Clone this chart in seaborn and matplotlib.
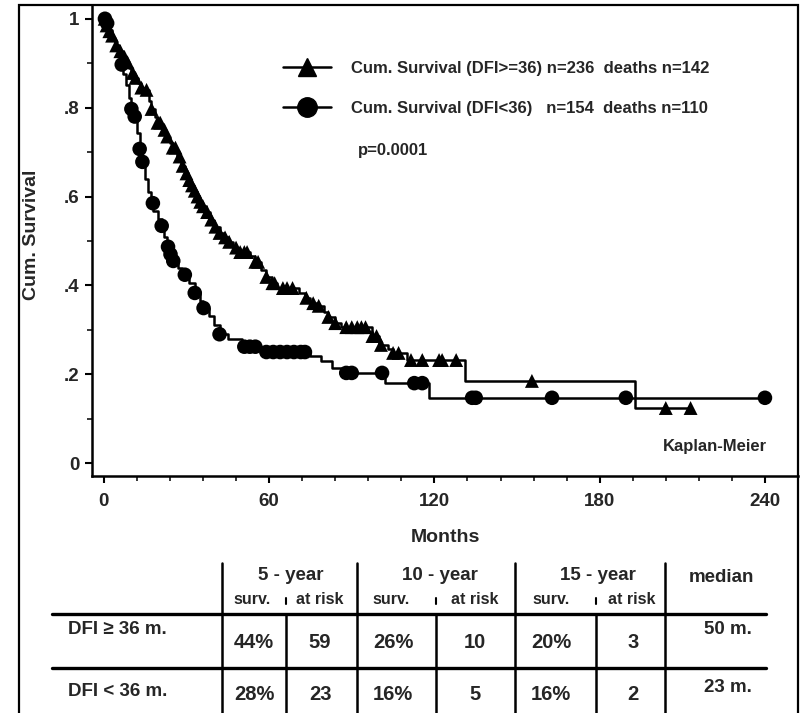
import numpy as np
import pandas as pd
import matplotlib
matplotlib.use("Agg")
import matplotlib.pyplot as plt
import seaborn as sns
from matplotlib.lines import Line2D
from matplotlib.patches import Rectangle
from matplotlib.ticker import MultipleLocator
from matplotlib.font_manager import FontProperties

# ---------------- data ----------------
# DFI >= 36 (triangles): step times (months) and cumulative survival
t_hi = [0, 0.5, 1.5, 2.5, 3.5, 4.5, 5.5, 7, 8, 9, 10, 11, 12.5, 13.6, 15, 16.5, 17.3, 18.5, 19.5, 21,
        22.5, 24, 25, 26.5, 28, 29.5, 30.5, 31.5, 32.5, 33.5, 34.5, 35.5, 37, 38.5, 40, 42, 43.5, 45, 47, 49,
        53, 55, 57, 59, 61, 63, 71, 73, 75, 77, 80, 81.5, 84, 86, 97.5, 100, 103, 105, 110, 131, 193, 213]
s_hi = [1.0, .985, .972, .962, .952, .94, .927, .914, .902, .89, .878, .867, .855, .845, .84, .815, .797, .78, .766, .75,
        .735, .72, .71, .69, .669, .652, .637, .625, .613, .6, .588, .578, .565, .548, .532, .518, .508, .498, .485, .475,
        .465, .453, .435, .419, .405, .394, .383, .372, .36, .354, .34, .329, .315, .306, .286, .266, .257, .248, .232, .185,
        .124, .124]
cens_hi = [0.3, 1, 2, 3, 4.5, 6, 7.5, 8.6, 10.5, 11.5, 13.6, 15.5, 17.3, 19.5, 20.5, 22, 23, 25, 26, 27.5, 28.6,
           30, 31, 32, 33, 34, 35, 36, 37.5, 39, 40.5, 42, 44, 45.5, 48, 49.5, 51, 52, 55, 56, 59, 61.2, 62, 65,
           66.5, 68.5, 73.5, 76, 78, 81.5, 84, 88, 90, 92, 93.5, 95, 97.5, 99, 100.6, 105, 107, 111.5, 115.6,
           121.7, 122.8, 127.9, 155.4, 204, 213]

# DFI < 36 (circles)
t_lo = [0, 1, 2, 3, 4, 5, 6, 7, 8, 9, 10, 11, 12, 13, 14, 15, 16, 17, 18, 19.5,
        21, 22, 23, 24, 25, 27, 28.5, 31, 33, 35, 36, 38, 40, 42, 45, 50, 57, 75, 79, 83,
        87, 102, 118, 240]
s_lo = [1.0, .99, .975, .957, .937, .917, .897, .876, .85, .822, .797, .78, .742, .707, .678, .64, .61, .585, .568, .55,
        .534, .51, .487, .47, .455, .44, .424, .405, .383, .365, .349, .33, .31, .29, .28, .262, .25, .24, .23, .215,
        .203, .18, .147, .147]
cens_lo = [0.4, 1.2, 6.5, 10, 11.2, 13, 14, 17.8, 21, 23.3, 24.2, 25.2, 29.4, 33, 36.2, 42, 51, 53, 55, 59,
           61.5, 64, 66.5, 69, 71.5, 73, 88, 90, 101, 112.7, 115.6, 133.7, 135, 162.7, 189.5, 240]

legend_labels = ["Cum. Survival (DFI>=36) n=236  deaths n=142",
                 "Cum. Survival (DFI<36)   n=154  deaths n=110"]
p_text = "p=0.0001"
method_text = "Kaplan-Meier"
x_label = "Months"
y_label = "Cum. Survival"
xticks = [0, 60, 120, 180, 240]
xtick_labels = ["0", "60", "120", "180", "240"]
yticks = [0, 0.2, 0.4, 0.6, 0.8, 1.0]
ytick_labels = ["0", ".2", ".4", ".6", ".8", "1"]

table_groups = ["5 - year", "10 - year", "15 - year"]
table_sub = ["surv.", "at risk"]
median_header = "median"
row_labels = ["DFI \u2265 36 m.", "DFI < 36 m."]
row_hi = ["44%", "59", "26%", "10", "20%", "3"]
row_lo = ["28%", "23", "16%", "5", "16%", "2"]
median_vals = ["50 m.", "23 m."]

# ---------------- style ----------------
sns.set_style("white")
plt.rcParams["font.family"] = ["Liberation Sans", "DejaVu Sans"]
plt.rcParams["font.weight"] = "bold"

W, H = 809, 713
fig = plt.figure(figsize=(W / 100, H / 100), dpi=100)
fig.patch.set_facecolor("white")


def fx(x):
    return x / W


def fy(y):
    return 1 - y / H


ax = fig.add_axes([fx(92), fy(476), (798 - 92) / W, (476 - 5) / H])
ax.set_facecolor("white")


def km_df(t, s):
    return pd.DataFrame({"t": t, "s": s})


def cens_df(t_steps, s_steps, ct):
    idx = np.searchsorted(np.asarray(t_steps), np.asarray(ct), side="right") - 1
    return pd.DataFrame({"t": ct, "s": np.asarray(s_steps)[idx]})


sns.lineplot(data=km_df(t_hi, s_hi), x="t", y="s", ax=ax, color="black", lw=1.8,
             drawstyle="steps-post", estimator=None, sort=False)
sns.lineplot(data=km_df(t_lo, s_lo), x="t", y="s", ax=ax, color="black", lw=1.8,
             drawstyle="steps-post", estimator=None, sort=False)
sns.scatterplot(data=cens_df(t_hi, s_hi, cens_hi), x="t", y="s", ax=ax, marker="^",
                s=100, color="black", edgecolor="none", zorder=3, legend=False)
sns.scatterplot(data=cens_df(t_lo, s_lo, cens_lo), x="t", y="s", ax=ax, marker="o",
                s=110, color="black", edgecolor="none", zorder=3, legend=False)

ax.set_xlim(-4.3, 252)
ax.set_ylim(-0.029, 1.031)
ax.set_xticks(xticks)
ax.set_xticklabels(xtick_labels)
ax.set_yticks(yticks)
ax.set_yticklabels(ytick_labels)
ax.xaxis.set_minor_locator(MultipleLocator(12))
ax.yaxis.set_minor_locator(MultipleLocator(0.1))
ax.tick_params(axis="both", which="major", direction="out", length=5, width=1.5,
               labelsize=13.5, color="black", bottom=True, left=True)
ax.tick_params(axis="both", which="minor", direction="out", length=3.5, width=1.3,
               bottom=True, left=True)
ax.tick_params(axis="x", which="major", pad=7)
ax.tick_params(axis="y", which="major", pad=4)
for lab in ax.get_xticklabels() + ax.get_yticklabels():
    lab.set_fontweight("bold")
ax.set_xlabel("")
ax.set_ylabel("")
for side in ["top", "right"]:
    ax.spines[side].set_visible(False)
for side in ["left", "bottom"]:
    ax.spines[side].set_linewidth(1.8)
    ax.spines[side].set_color("black")

# legend
handles = [Line2D([], [], color="black", lw=1.8, marker="^", markersize=13),
           Line2D([], [], color="black", lw=1.8, marker="o", markersize=14)]
ax.legend(handles, legend_labels, loc="upper left", bbox_to_anchor=(fx(283), fy(61)),
          bbox_transform=fig.transFigure, frameon=False, borderpad=0, borderaxespad=0,
          handlelength=2.9, handletextpad=1.2, labelspacing=1.5,
          prop=FontProperties(family="Liberation Sans", weight="bold", size=12))

fig.text(fx(358), fy(151), p_text, ha="left", va="center", fontsize=12, fontweight="bold")
fig.text(fx(767), fy(447), method_text, ha="right", va="center", fontsize=12, fontweight="bold")

fig.text(fx(32), fy(235), y_label, ha="center", va="center", rotation=90,
         fontsize=14, fontweight="bold")
fig.text(fx(445), fy(538), x_label, ha="center", va="center", fontsize=14, fontweight="bold")

# outer frame
fig.add_artist(Rectangle((fx(19), -0.05), (798 - 19) / W, fy(5) + 0.05, transform=fig.transFigure,
                         fill=False, lw=1.6, edgecolor="black"))

# ---------------- table ----------------
narrow = ["Liberation Sans Narrow", "Liberation Sans"]


def T(x, y, s, size=13, family=None, ha="center"):
    kw = dict(ha=ha, va="center", fontsize=size, fontweight="bold")
    if family is not None:
        kw["family"] = family
    fig.text(fx(x), fy(y), s, **kw)


def L(x0, y0, x1, y1, lw=1.8):
    fig.add_artist(Line2D([fx(x0), fx(x1)], [fy(y0), fy(y1)], color="black", lw=lw,
                          transform=fig.transFigure))


# horizontal lines
L(52, 614, 766, 614, lw=2.4)
L(52, 668, 766, 668, lw=2.4)
# main verticals
for x in [222, 357, 515, 665]:
    L(x, 563, x, 713, lw=1.8)
# sub verticals
for x in [286, 436, 596]:
    L(x, 598, x, 604, lw=1.5)
    L(x, 614, x, 713, lw=1.8)

group_x = [291, 440, 598]
for g, x in zip(table_groups, group_x):
    T(x, 575, g, size=13.5)
T(721, 578, median_header, size=13.5)

sub_x = [(252, 320), (391, 475), (551, 632)]
for sx, rx in sub_x:
    T(sx, 600, table_sub[0], size=11.5, family=narrow)
    T(rx, 600, table_sub[1], size=11.5, family=narrow)

val_x = [254, 320, 393, 475, 551, 633]
T(68, 630, row_labels[0], size=13.5, family=narrow, ha="left")
T(68, 692, row_labels[1], size=13.5, family=narrow, ha="left")
for v, x in zip(row_hi, val_x):
    T(x, 642, v, size=14.5, family=narrow)
for v, x in zip(row_lo, val_x):
    T(x, 695, v, size=14.5, family=narrow)
T(728, 630, median_vals[0], size=13.5, family=narrow)
T(728, 688, median_vals[1], size=13.5, family=narrow)

fig.savefig("out.png", dpi=100, facecolor="white")
